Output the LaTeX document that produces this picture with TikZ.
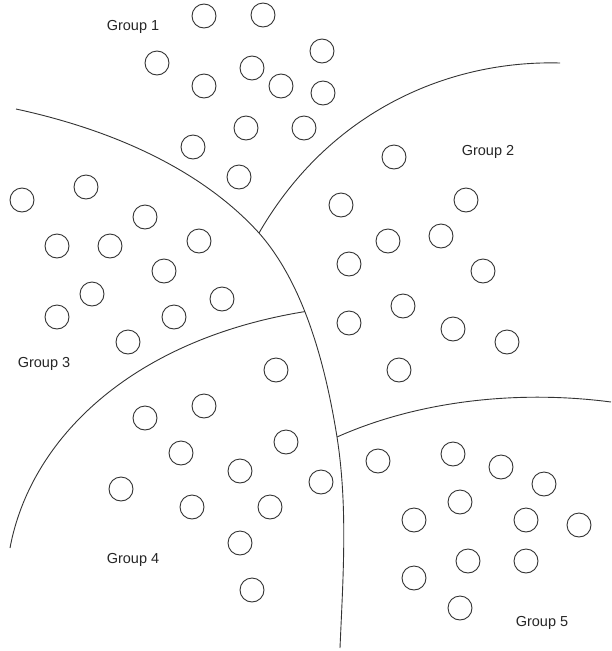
\documentclass[tikz,border=0pt]{standalone}
\usepackage{fontspec}
\setmainfont{Liberation Sans}
\usepackage{tikz}
\tikzset{
  ball/.style={
    shape = circle,
    draw = black!80,
    line width = 0.9pt,
    inner sep = 0pt,
    minimum size = 24pt
  },
  border/.style={
    draw = black!80,
    line width = 0.9pt
  },
  grouplabel/.style={
    text = black!85,
    font = \fontsize{14.5pt}{17pt}\selectfont
  }
}

\begin{document}
\begin{tikzpicture}[x=1pt,y=-1pt]
    \useasboundingbox (0,0) rectangle (611,651);
    % end points and junctions
    \coordinate (aS) at (16,109);
    \coordinate (aE) at (340,648);
    \coordinate (jB) at (259,233);
    \coordinate (jD) at (337,437);
    \coordinate (bE) at (560,63);
    \coordinate (cE) at (10,548);
    \coordinate (dE) at (611,402);
    % long border, group 3 / 4 junction on it
    \draw[border] (aS) .. controls (150,138) and (222,192) .. (jB)
        .. controls (305,285) and (326,368) .. coordinate[pos=0.42] (jC) (jD)
        .. controls (348,507) and (343,578) .. (aE);
    \draw[border] (jB) .. controls (330,110) and (450,60) .. (bE);
    \draw[border] (jC) .. controls (130,340) and (30,440) .. (cE);
    \draw[border] (jD) .. controls (420,400) and (520,390) .. (dE);
    % balls
    \foreach \p [count=\i] in {(204,16),(263,15),(157,63),(252,68),(322,51),(204,86),
        (281,86),(323,93),(246,128),(304,128),(193,147),(239,177)}
        \node[ball] (g1-\i) at \p {};
    \foreach \p [count=\i] in {(394,157),(341,205),(466,200),(388,241),(441,236),(349,264),
        (483,271),(403,306),(349,323),(453,329),(507,342),(399,370)}
        \node[ball] (g2-\i) at \p {};
    \foreach \p [count=\i] in {(22,200),(86,187),(145,217),(57,246),(110,246),(199,241),
        (164,271),(92,294),(57,317),(222,299),(174,317),(128,342)}
        \node[ball] (g3-\i) at \p {};
    \foreach \p [count=\i] in {(276,370),(204,406),(145,418),(181,453),(286,442),(240,471),
        (321,482),(121,489),(192,507),(270,507),(240,543),(252,590)}
        \node[ball] (g4-\i) at \p {};
    \foreach \p [count=\i] in {(378,461),(453,454),(501,467),(544,484),(460,502),(414,520),
        (526,520),(579,525),(468,561),(526,561),(414,578),(460,608)}
        \node[ball] (g5-\i) at \p {};
    % labels
    \node[grouplabel] (lab1) at (133,27) {Group 1};
    \node[grouplabel] (lab2) at (488,152) {Group 2};
    \node[grouplabel] (lab3) at (44,364) {Group 3};
    \node[grouplabel] (lab4) at (133,560) {Group 4};
    \node[grouplabel] (lab5) at (542,623) {Group 5};
\end{tikzpicture}
\end{document}
